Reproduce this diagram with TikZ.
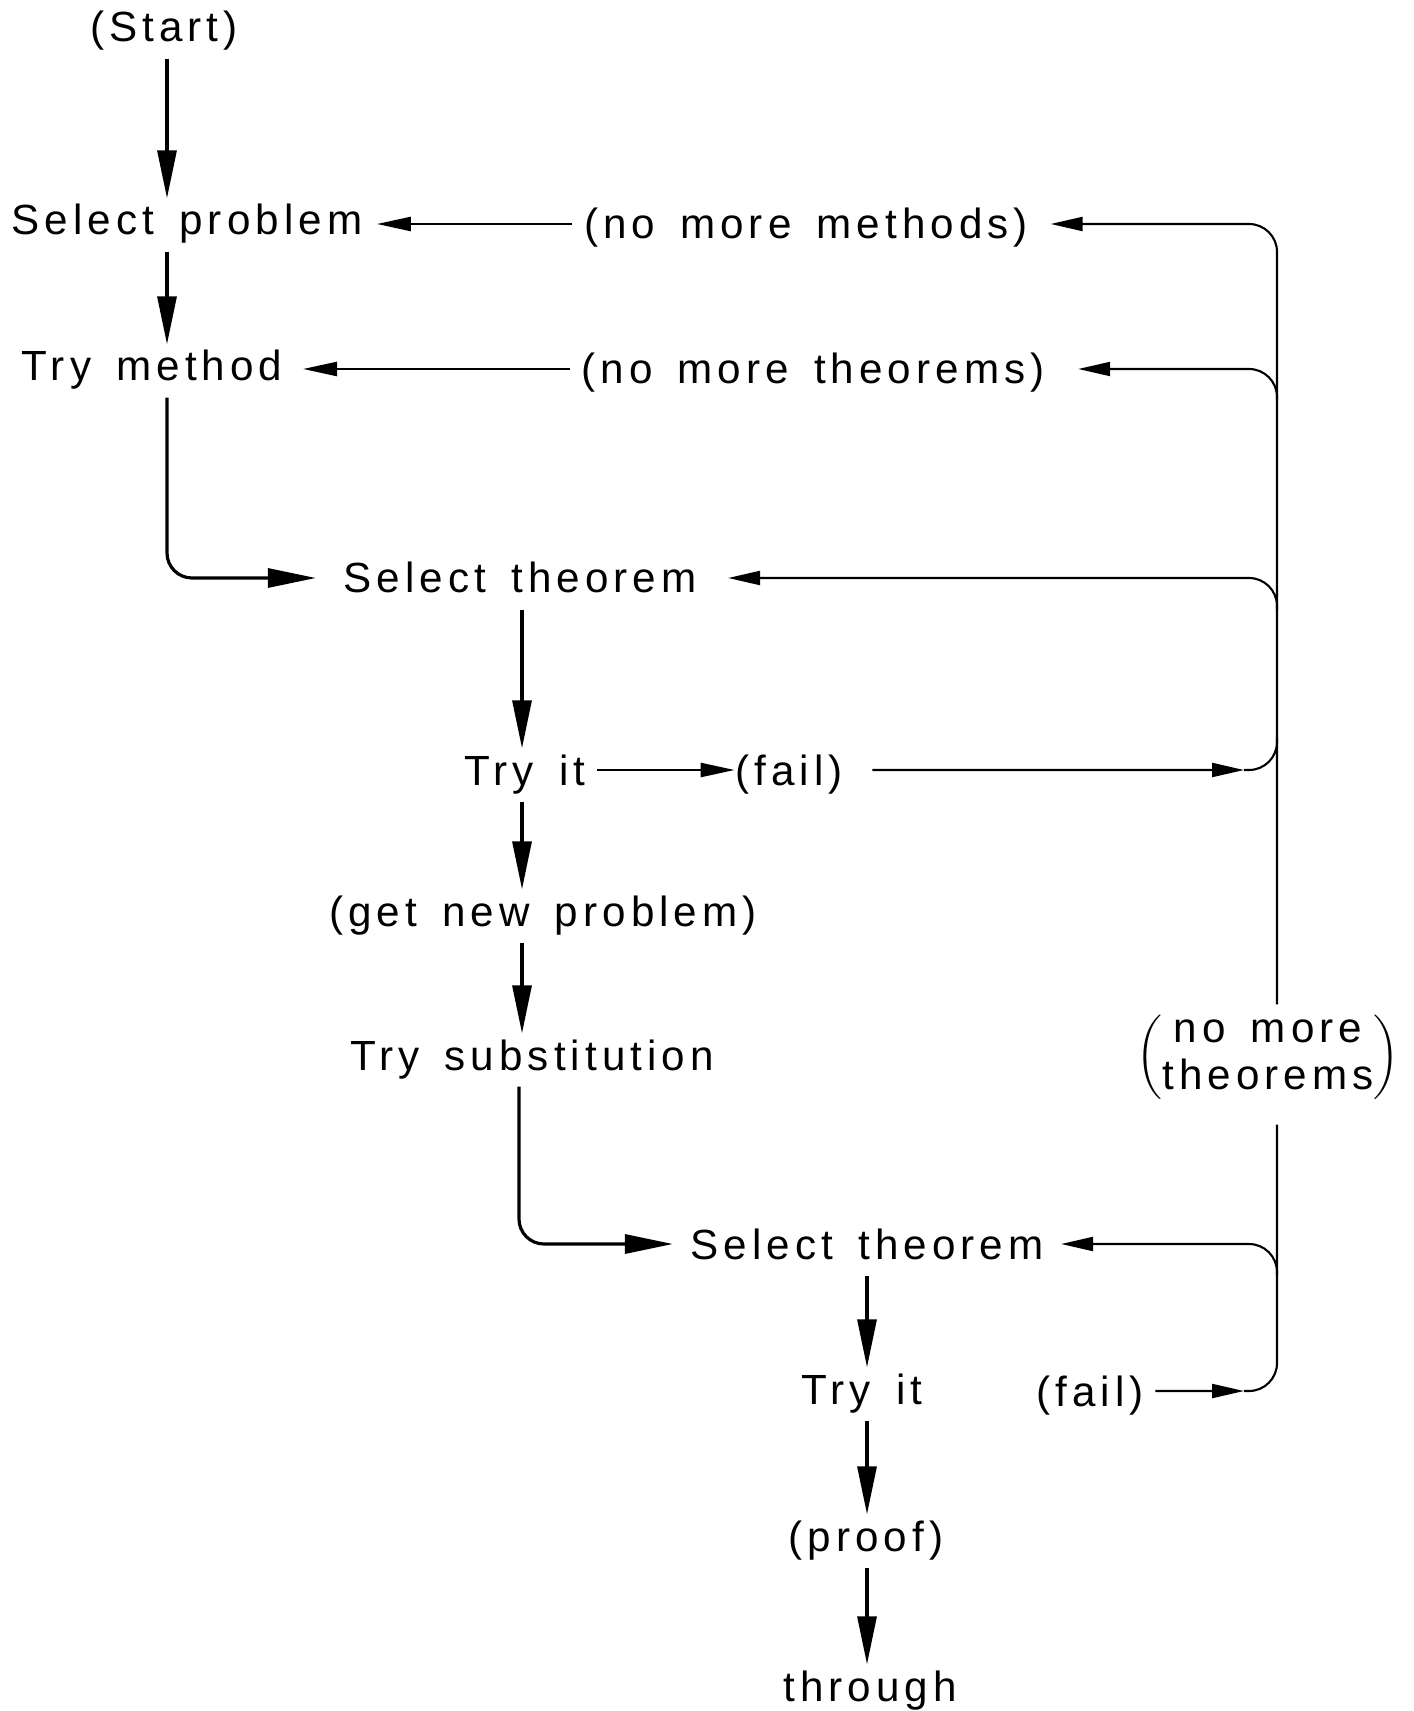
\documentclass[tikz,border=0pt]{standalone}
\usepackage{fontspec}
\setmainfont{Liberation Sans}[LetterSpace=12,WordSpace=1.5]
\usetikzlibrary{arrows.meta}
\begin{document}
\begin{tikzpicture}[x=0.1mm,y=-0.1mm,
  lbl/.style={inner sep=0pt, text height=3.6mm, text depth=0.6mm, anchor=base, font=\fontsize{12}{14.5}\selectfont},
  varr/.style={line width=0.9pt, -{Triangle[length=4.8mm,width=1.9mm]}, shorten <=1mm},
  harr/.style={line width=0.7pt, -{Triangle[length=3.4mm,width=1.4mm]}},
  rline/.style={line width=0.6pt},
  rarr/.style={line width=0.6pt, -{Triangle[length=3.2mm,width=1.4mm]}},
]
\useasboundingbox (0,0) rectangle (1413,1711);
\fill[white] (0,0) rectangle (1413,1711);

% column coordinates
\coordinate (cA) at (167,0);
\coordinate (cB) at (522,0);
\coordinate (cB2) at (519,0);
\coordinate (cC) at (867,0);
\coordinate (vr) at (1277,0);

% nodes
\node[lbl] (start) at (164,42) {(Start)};
\node[lbl] (sp) at (187,235) {Select problem};
\node[lbl] (tm) at (152,381) {Try method};
\node[lbl] (nmm) at (806,239) {(no more methods)};
\node[lbl] (nmt) at (813,384) {(no more theorems)};
\node[lbl] (st1) at (520,593) {Select theorem};
\node[lbl] (try1) at (525,785) {Try it};
\node[lbl] (fail1) at (789,785) {(fail)};
\node[lbl] (gnp) at (543,926) {(get new problem)};
\node[lbl] (ts) at (532,1070) {Try substitution};
\node[lbl] (st2) at (867,1259) {Select theorem};
\node[lbl] (try2) at (862,1404) {Try it};
\node[lbl] (fail2) at (1090,1406) {(fail)};
\node[lbl] (proof) at (866,1551) {(proof)};
\node[lbl] (through) at (870,1701) {through};
\node[inner sep=0pt, font=\fontsize{12}{14.5}\selectfont] (nmt2) at (1268,1057)
  {$\bigg($\renewcommand\arraystretch{0.92}\begin{tabular}{@{}c@{}}no more\\theorems\end{tabular}$\bigg)$};

% left column vertical arrows
\draw[varr] (start.south -| cA) -- (sp.north -| cA);
\draw[varr] (sp.south -| cA) -- (tm.north -| cA);
\draw[varr, rounded corners=2.5mm, shorten >=2.7mm] (tm.south -| cA) |- (st1.west);
\draw[varr] (st1.south -| cB) -- (try1.north -| cB);
\draw[varr] (try1.south -| cB) -- (gnp.north -| cB);
\draw[varr] (gnp.south -| cB) -- (ts.north -| cB);
\draw[varr, rounded corners=2.5mm, shorten >=1.7mm] (ts.south -| cB2) |- (st2.west);
\draw[varr] (st2.south -| cC) -- (try2.north -| cC);
\draw[varr] (try2.south -| cC) -- (proof.north -| cC);
\draw[varr] (proof.south -| cC) -- (through.north -| cC);

% horizontal arrows
\draw[harr, shorten <=1.1mm, shorten >=1.4mm] (nmm.west) -- (nmm.west -| sp.east);
\draw[harr, shorten <=1.1mm, shorten >=2mm] (nmt.west) -- (nmt.west -| tm.east);
\draw[harr, shorten <=1.1mm] (try1.east) -- (try1.east -| fail1.west);

% right return line
\draw[rarr, rounded corners=2.8mm, shorten <=0.5mm, shorten >=2.2mm] (nmt2.north -| vr) |- (nmm.east);
\coordinate (f2e) at (1244,1391);
\coordinate (f1e) at (1244,770);
\draw[rline, rounded corners=2.8mm, shorten >=2mm] (f2e) -| (nmt2.south -| vr);
\draw[rarr, shorten <=1.1mm] (fail2.east) -- (f2e);
\draw[rarr, shorten <=2.9mm] (fail1.east) -- (f1e);
\draw[rline, rounded corners=2.8mm] (f1e) -- (1277,770) -- (1277,738);
\draw[rarr, rounded corners=2.8mm, shorten >=3.3mm] (1277,400) |- (nmt.east);
\draw[rarr, rounded corners=2.8mm, shorten >=3.1mm] (1277,610) |- (st1.east);
\draw[rarr, rounded corners=2.8mm, shorten >=1.7mm] (1277,1275) |- (st2.east);
\end{tikzpicture}
\end{document}
